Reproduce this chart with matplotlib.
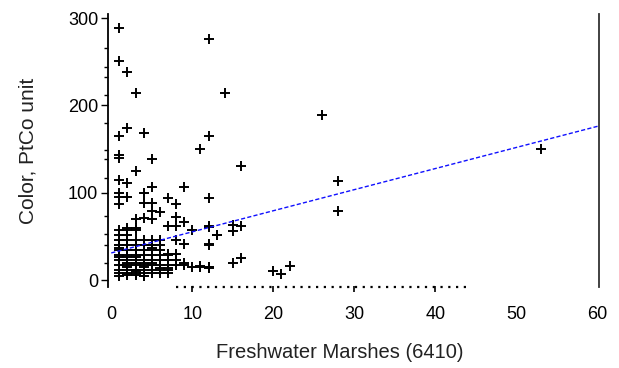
import matplotlib
matplotlib.use("Agg")
import matplotlib.pyplot as plt
import matplotlib.transforms as mtransforms

plt.rcParams['font.family'] = ['Liberation Sans', 'DejaVu Sans']

# Freshwater marshes (%) vs colour
marsh_x = [1, 12, 1, 2, 3, 14, 2, 1, 4, 12,
           26, 53, 28, 28, 20, 21, 22,
           11, 16, 12, 12, 15, 16, 15, 13, 12, 11, 12, 15, 16,
           1, 1, 5, 3, 1, 2, 5, 9, 1, 4, 1, 2, 7, 1, 4, 5, 8, 5, 6, 3, 4, 5, 8,
           7, 9, 9, 10, 12, 13, 7, 8, 12, 9, 12, 8, 7,
           1, 2, 3, 1, 2, 3, 4, 5, 6,
           1, 2, 3, 4, 5, 6, 8,
           1, 2, 3, 4, 5, 6, 7,
           1, 2, 3, 4, 5, 6, 7, 8,
           1, 2, 3, 4, 5, 6, 7, 8,
           1, 2, 3, 4, 5, 6, 7, 8, 9, 10, 11, 12,
           1, 2, 3, 4, 5, 6, 7,
           1, 2, 3, 4, 5, 6, 7,
           1, 2, 3, 2, 3, 1, 4, 2, 3, 4, 5, 3, 2,
           1, 2, 3, 4, 2, 3, 1, 5, 6, 4]
color_y = [289, 276, 251, 238, 214, 214, 174, 165, 168, 165,
           189, 150, 113, 79, 10, 7, 16,
           150, 131, 94, 61, 63, 62, 56, 51, 40, 16, 15, 19, 25,
           143, 140, 138, 125, 114, 111, 106, 106, 100, 100, 95, 95, 94, 87, 88, 88, 87, 79, 78, 70, 71, 70, 72,
           62, 66, 41, 57, 62, 51, 30, 30, 41, 19, 15, 62, 14,
           57, 57, 57, 52, 52, 46, 46, 46, 46,
           46, 46, 40, 40, 40, 40, 46,
           40, 40, 34, 34, 34, 34, 23,
           34, 34, 29, 29, 29, 29, 29, 23,
           29, 29, 23, 23, 23, 23, 23, 17,
           17, 17, 17, 17, 17, 17, 17, 17, 17, 15, 15, 14,
           12, 12, 12, 12, 12, 12, 12,
           8, 8, 8, 8, 8, 8, 8,
           23, 23, 20, 20, 12, 5, 5, 6, 6, 20, 20, 60, 60,
           26, 26, 26, 15, 15, 10, 37, 37, 14, 5]

# Fitted line (end points)
fit_x = [0, 60]
fit_y = [31, 176]

x_ticks = [0, 10, 20, 30, 40, 50, 60]
y_ticks = [0, 100, 200, 300]
y_minor = [19.5, 40, 53, 73, 117, 139, 149, 180, 212, 233, 244, 266]
dot_axis_x = [8, 44]
dot_axis_ticks = [10, 20, 30, 40]

fig = plt.figure(figsize=(6.19, 3.68), dpi=100)
ax = fig.add_axes([108 / 619, 1 - 287 / 368, 491 / 619, 273 / 368])
ax.set_xlim(-0.4, 60.18)
ax.set_ylim(-8, 304.6)

ax.plot(marsh_x, color_y, linestyle='none', marker='+', color='black',
        markersize=7.5, markeredgewidth=1.4, clip_on=False)
ax.plot(fit_x, fit_y, color='#1010ff', linestyle=(0, (3, 1.6)), linewidth=1.0)

for s in ['top', 'bottom']:
    ax.spines[s].set_visible(False)
ax.spines['left'].set_linewidth(1.3)
ax.spines['right'].set_linewidth(1.3)
ax.spines['right'].set_color('#333333')

trans = mtransforms.blended_transform_factory(ax.transData, ax.transAxes)
ax.plot(dot_axis_x, [0, 0], transform=trans, color='black', linestyle=(0, (1, 2.5)),
        linewidth=1.6, clip_on=False)
ax.plot(dot_axis_ticks, [-0.008] * len(dot_axis_ticks), transform=trans, linestyle='none',
        marker='|', markersize=5, color='black', markeredgewidth=1.2, clip_on=False)

ax.set_xticks(x_ticks)
ax.tick_params(axis='x', length=0, pad=14, labelsize=13)
ax.set_yticks(y_ticks)
ax.set_yticks(y_minor, minor=True)
ax.tick_params(axis='y', which='major', length=5, width=1, pad=2, labelsize=13)
ax.tick_params(axis='y', which='minor', length=3, width=1)
ax.tick_params(right=False)

ax.set_xlabel('Freshwater Marshes (6410)', fontsize=14.5, color='#222222')
ax.xaxis.set_label_coords(0.4725, -0.205)
ax.set_ylabel('Color, PtCo unit', fontsize=15, labelpad=22, color='#222222')

fig.savefig('out.png', dpi=100)
